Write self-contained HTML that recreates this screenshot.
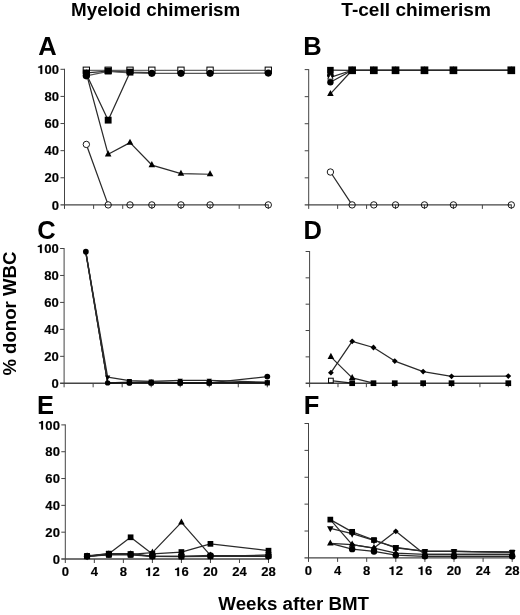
<!DOCTYPE html>
<html><head><meta charset="utf-8"><style>
html,body{margin:0;padding:0;background:#fff;}
svg{display:block;}
</style></head><body>
<svg width="520" height="615" viewBox="0 0 520 615">
<rect width="520" height="615" fill="#fff"/>
<g font-family='"Liberation Sans", sans-serif' font-weight="bold" fill="#000">
<text x="71.1" y="15.9" font-size="18" text-anchor="start" textLength="169.2" lengthAdjust="spacingAndGlyphs">Myeloid chimerism</text>
<text x="341.3" y="15.9" font-size="18" text-anchor="start" textLength="149.6" lengthAdjust="spacingAndGlyphs">T-cell chimerism</text>
<text x="218.3" y="609.9" font-size="18" text-anchor="start" textLength="150.7" lengthAdjust="spacingAndGlyphs">Weeks after BMT</text>
<text transform="translate(15.5,375.6) rotate(-90)" font-size="18" textLength="124" lengthAdjust="spacingAndGlyphs">% donor WBC</text>
</g>
<g><path d="M86.34,70.25L108.17,70.25M108.17,70.25L130.01,70.25M130.01,70.25L151.84,70.25M151.84,70.25L180.96,70.25M180.96,70.25L210.07,70.25M210.07,70.25L268.30,70.25" stroke="#666" stroke-width="1.25" fill="none" stroke-linecap="round"/><path d="M86.34,73.37L108.17,154.32M108.17,154.32L130.01,142.66M130.01,142.66L151.84,165.03M151.84,165.03L180.96,173.71M180.96,173.71L210.07,174.25" stroke="#2a2a2a" stroke-width="1.25" fill="none" stroke-linecap="round"/><path d="M86.34,144.42L108.17,204.90" stroke="#2a2a2a" stroke-width="1.25" fill="none" stroke-linecap="round"/><path d="M86.34,74.05L108.17,120.15M108.17,120.15L130.01,72.15M130.01,72.15L151.84,72.55" stroke="#2a2a2a" stroke-width="1.25" fill="none" stroke-linecap="round"/><path d="M86.34,72.96L108.17,71.06M108.17,71.06L130.01,72.15" stroke="#2a2a2a" stroke-width="1.25" fill="none" stroke-linecap="round"/><path d="M86.34,75.81L108.17,71.33M108.17,71.33L130.01,72.96M130.01,72.96L151.84,73.37M151.84,73.37L180.96,73.37M180.96,73.37L210.07,73.37M210.07,73.37L268.30,73.10" stroke="#555" stroke-width="1.25" fill="none" stroke-linecap="round"/><rect x="83.19" y="67.10" width="6.30" height="6.30" fill="#fff" stroke="#000" stroke-width="1"/><rect x="105.02" y="67.10" width="6.30" height="6.30" fill="#fff" stroke="#000" stroke-width="1"/><rect x="126.86" y="67.10" width="6.30" height="6.30" fill="#fff" stroke="#000" stroke-width="1"/><rect x="148.69" y="67.10" width="6.30" height="6.30" fill="#fff" stroke="#000" stroke-width="1"/><rect x="177.81" y="67.10" width="6.30" height="6.30" fill="#fff" stroke="#000" stroke-width="1"/><rect x="206.92" y="67.10" width="6.30" height="6.30" fill="#fff" stroke="#000" stroke-width="1"/><rect x="265.15" y="67.10" width="6.30" height="6.30" fill="#fff" stroke="#000" stroke-width="1"/><path d="M86.34,69.37L89.64,75.47L83.04,75.47Z" fill="#000"/><path d="M108.17,150.32L111.47,156.42L104.87,156.42Z" fill="#000"/><path d="M130.01,138.66L133.31,144.76L126.71,144.76Z" fill="#000"/><path d="M151.84,161.03L155.14,167.13L148.54,167.13Z" fill="#000"/><path d="M180.96,169.71L184.26,175.81L177.66,175.81Z" fill="#000"/><path d="M210.07,170.25L213.37,176.35L206.77,176.35Z" fill="#000"/><circle cx="86.34" cy="144.42" r="3.20" fill="#fff" stroke="#000" stroke-width="0.9"/><circle cx="108.17" cy="204.90" r="3.20" fill="#fff" stroke="#000" stroke-width="0.9"/><circle cx="130.01" cy="204.90" r="3.20" fill="#fff" stroke="#000" stroke-width="0.9"/><circle cx="151.84" cy="204.90" r="3.20" fill="#fff" stroke="#000" stroke-width="0.9"/><circle cx="180.96" cy="204.90" r="3.20" fill="#fff" stroke="#000" stroke-width="0.9"/><circle cx="210.07" cy="204.90" r="3.20" fill="#fff" stroke="#000" stroke-width="0.9"/><circle cx="268.30" cy="204.90" r="3.20" fill="#fff" stroke="#000" stroke-width="0.9"/><rect x="82.92" y="70.63" width="6.84" height="6.84" fill="#000"/><rect x="104.75" y="116.73" width="6.84" height="6.84" fill="#000"/><rect x="82.92" y="69.54" width="6.84" height="6.84" fill="#000"/><rect x="104.75" y="67.64" width="6.84" height="6.84" fill="#000"/><rect x="126.59" y="68.73" width="6.84" height="6.84" fill="#000"/><circle cx="86.34" cy="75.81" r="3.58" fill="#000"/><circle cx="151.84" cy="73.37" r="3.58" fill="#000"/><circle cx="180.96" cy="73.37" r="3.58" fill="#000"/><circle cx="210.07" cy="73.37" r="3.58" fill="#000"/><circle cx="268.30" cy="73.10" r="3.58" fill="#000"/><g stroke="#444" stroke-width="1" fill="none" style="mix-blend-mode:multiply"><path d="M64.50,68.80V208.90"/><path d="M60.50,204.90H268.80" stroke-width="1.4"/><path d="M60.50,177.78H64.50"/><path d="M60.50,150.66H64.50"/><path d="M60.50,123.54H64.50"/><path d="M60.50,96.42H64.50"/><path d="M60.50,69.30H64.50"/><path d="M93.61,204.90V208.90"/><path d="M122.73,204.90V208.90"/><path d="M151.84,204.90V208.90"/><path d="M180.96,204.90V208.90"/><path d="M210.07,204.90V208.90"/><path d="M239.19,204.90V208.90"/><path d="M268.30,204.90V208.90"/></g><text x="38.2" y="54.6" font-family='"Liberation Sans", sans-serif' font-weight="bold" font-size="25.5">A</text><g transform="translate(59.10,209.50) scale(1.09,1)" font-family='"Liberation Sans", sans-serif' font-weight="bold" font-size="12"><text x="-6.674" y="0" stroke="#000" stroke-width="0.15">0</text></g><g transform="translate(59.10,182.38) scale(1.09,1)" font-family='"Liberation Sans", sans-serif' font-weight="bold" font-size="12"><text x="-13.349" y="0" stroke="#000" stroke-width="0.15">2</text><text x="-6.674" y="0" stroke="#000" stroke-width="0.15">0</text></g><g transform="translate(59.10,155.26) scale(1.09,1)" font-family='"Liberation Sans", sans-serif' font-weight="bold" font-size="12"><text x="-13.349" y="0" stroke="#000" stroke-width="0.15">4</text><text x="-6.674" y="0" stroke="#000" stroke-width="0.15">0</text></g><g transform="translate(59.10,128.14) scale(1.09,1)" font-family='"Liberation Sans", sans-serif' font-weight="bold" font-size="12"><text x="-13.349" y="0" stroke="#000" stroke-width="0.15">6</text><text x="-6.674" y="0" stroke="#000" stroke-width="0.15">0</text></g><g transform="translate(59.10,101.02) scale(1.09,1)" font-family='"Liberation Sans", sans-serif' font-weight="bold" font-size="12"><text x="-13.349" y="0" stroke="#000" stroke-width="0.15">8</text><text x="-6.674" y="0" stroke="#000" stroke-width="0.15">0</text></g><g transform="translate(59.10,73.90) scale(1.09,1)" font-family='"Liberation Sans", sans-serif' font-weight="bold" font-size="12"><path d="M-15.487,0.000L-15.487,-8.544L-16.879,-8.544C-17.083,-7.680 -17.863,-7.200 -19.195,-7.140L-19.195,-6.060L-17.191,-6.060L-17.191,0.000Z" fill="#000" stroke="#000" stroke-width="0.15"/><text x="-13.349" y="0" stroke="#000" stroke-width="0.15">0</text><text x="-6.674" y="0" stroke="#000" stroke-width="0.15">0</text></g></g>
<g><path d="M330.41,172.02L352.11,204.90" stroke="#2a2a2a" stroke-width="1.25" fill="none" stroke-linecap="round"/><path d="M330.41,93.95L352.11,70.28M352.11,70.28L373.82,70.28M373.82,70.28L395.53,70.28M395.53,70.28L424.47,70.28M424.47,70.28L453.41,70.28M453.41,70.28L511.30,70.28" stroke="#2a2a2a" stroke-width="1.25" fill="none" stroke-linecap="round"/><path d="M330.41,82.18L352.11,70.28M352.11,70.28L373.82,70.28M373.82,70.28L395.53,70.28M395.53,70.28L424.47,70.28M424.47,70.28L453.41,70.28M453.41,70.28L511.30,70.28" stroke="#2a2a2a" stroke-width="1.25" fill="none" stroke-linecap="round"/><path d="M330.41,77.31L352.11,70.28M352.11,70.28L373.82,70.28M373.82,70.28L395.53,70.28M395.53,70.28L424.47,70.28M424.47,70.28L453.41,70.28M453.41,70.28L511.30,70.28" stroke="#2a2a2a" stroke-width="1.25" fill="none" stroke-linecap="round"/><path d="M330.41,70.14L352.11,70.28M352.11,70.28L373.82,70.28M373.82,70.28L395.53,70.28M395.53,70.28L424.47,70.28M424.47,70.28L453.41,70.28M453.41,70.28L511.30,70.28" stroke="#2a2a2a" stroke-width="1.25" fill="none" stroke-linecap="round"/><circle cx="330.41" cy="172.02" r="3.20" fill="#fff" stroke="#000" stroke-width="0.9"/><circle cx="352.11" cy="204.90" r="3.20" fill="#fff" stroke="#000" stroke-width="0.9"/><circle cx="373.82" cy="204.90" r="3.20" fill="#fff" stroke="#000" stroke-width="0.9"/><circle cx="395.53" cy="204.90" r="3.20" fill="#fff" stroke="#000" stroke-width="0.9"/><circle cx="424.47" cy="204.90" r="3.20" fill="#fff" stroke="#000" stroke-width="0.9"/><circle cx="453.41" cy="204.90" r="3.20" fill="#fff" stroke="#000" stroke-width="0.9"/><circle cx="511.30" cy="204.90" r="3.20" fill="#fff" stroke="#000" stroke-width="0.9"/><path d="M330.41,89.95L333.71,96.05L327.11,96.05Z" fill="#000"/><path d="M352.11,66.28L355.41,72.38L348.81,72.38Z" fill="#000"/><path d="M373.82,66.28L377.12,72.38L370.52,72.38Z" fill="#000"/><path d="M395.53,66.28L398.83,72.38L392.23,72.38Z" fill="#000"/><path d="M424.47,66.28L427.77,72.38L421.17,72.38Z" fill="#000"/><path d="M453.41,66.28L456.71,72.38L450.11,72.38Z" fill="#000"/><path d="M511.30,66.28L514.60,72.38L508.00,72.38Z" fill="#000"/><circle cx="330.41" cy="82.18" r="3.20" fill="#000"/><circle cx="352.11" cy="70.28" r="3.20" fill="#000"/><circle cx="373.82" cy="70.28" r="3.20" fill="#000"/><circle cx="395.53" cy="70.28" r="3.20" fill="#000"/><circle cx="424.47" cy="70.28" r="3.20" fill="#000"/><circle cx="453.41" cy="70.28" r="3.20" fill="#000"/><circle cx="511.30" cy="70.28" r="3.20" fill="#000"/><circle cx="330.41" cy="75.28" r="3.36" fill="#000"/><path d="M330.41,74.34L333.13,79.18L327.69,79.18Z" fill="#fff" stroke="#000" stroke-width="0.9"/><path d="M352.11,67.30L354.83,72.15L349.39,72.15Z" fill="#fff" stroke="#000" stroke-width="0.9"/><path d="M373.82,67.30L376.54,72.15L371.10,72.15Z" fill="#fff" stroke="#000" stroke-width="0.9"/><path d="M395.53,67.30L398.25,72.15L392.81,72.15Z" fill="#fff" stroke="#000" stroke-width="0.9"/><path d="M424.47,67.30L427.19,72.15L421.75,72.15Z" fill="#fff" stroke="#000" stroke-width="0.9"/><path d="M453.41,67.30L456.13,72.15L450.69,72.15Z" fill="#fff" stroke="#000" stroke-width="0.9"/><path d="M511.30,67.30L514.02,72.15L508.58,72.15Z" fill="#fff" stroke="#000" stroke-width="0.9"/><rect x="327.13" y="66.86" width="6.55" height="6.55" fill="#000"/><rect x="348.27" y="66.43" width="7.70" height="7.70" fill="#000"/><rect x="369.97" y="66.43" width="7.70" height="7.70" fill="#000"/><rect x="391.68" y="66.43" width="7.70" height="7.70" fill="#000"/><rect x="420.62" y="66.43" width="7.70" height="7.70" fill="#000"/><rect x="449.57" y="66.43" width="7.70" height="7.70" fill="#000"/><rect x="507.45" y="66.43" width="7.70" height="7.70" fill="#000"/><g stroke="#444" stroke-width="1" fill="none" style="mix-blend-mode:multiply"><path d="M308.70,69.10V208.90"/><path d="M304.70,204.90H511.80" stroke-width="1.4"/><path d="M304.70,177.84H308.70"/><path d="M304.70,150.78H308.70"/><path d="M304.70,123.72H308.70"/><path d="M304.70,96.66H308.70"/><path d="M304.70,69.60H308.70"/><path d="M337.64,204.90V208.90"/><path d="M366.59,204.90V208.90"/><path d="M395.53,204.90V208.90"/><path d="M424.47,204.90V208.90"/><path d="M453.41,204.90V208.90"/><path d="M482.36,204.90V208.90"/><path d="M511.30,204.90V208.90"/></g><text x="303.2" y="55.1" font-family='"Liberation Sans", sans-serif' font-weight="bold" font-size="25.5">B</text></g>
<g><path d="M85.87,251.74L107.64,382.90M107.64,382.90L129.41,382.90M129.41,382.90L151.19,382.90M151.19,382.90L180.21,382.90M180.21,382.90L209.24,382.90M209.24,382.90L267.30,376.56" stroke="#2a2a2a" stroke-width="1.25" fill="none" stroke-linecap="round"/><path d="M85.87,252.54L107.64,377.23M107.64,377.23L129.41,380.60M129.41,380.60L151.19,381.28M151.19,381.28L180.21,380.33M180.21,380.33L209.24,380.33M209.24,380.33L267.30,382.22" stroke="#2a2a2a" stroke-width="1.25" fill="none" stroke-linecap="round"/><path d="M85.87,252.54L107.64,382.90M107.64,382.90L129.41,382.63M129.41,382.63L151.19,381.95M151.19,381.95L180.21,382.63M180.21,382.63L209.24,382.63M209.24,382.63L267.30,382.63" stroke="#2a2a2a" stroke-width="1.25" fill="none" stroke-linecap="round"/><path d="M85.87,253.22L107.64,382.90M107.64,382.90L129.41,382.22M129.41,382.22L151.19,382.63M151.19,382.63L180.21,382.90M180.21,382.90L209.24,382.90M209.24,382.90L267.30,382.90" stroke="#2a2a2a" stroke-width="1.25" fill="none" stroke-linecap="round"/><circle cx="85.87" cy="251.74" r="2.88" fill="#000"/><circle cx="129.41" cy="382.90" r="2.88" fill="#000"/><circle cx="151.19" cy="382.90" r="2.88" fill="#000"/><circle cx="180.21" cy="382.90" r="2.88" fill="#000"/><circle cx="209.24" cy="382.90" r="2.88" fill="#000"/><circle cx="267.30" cy="376.56" r="2.88" fill="#000"/><path d="M107.64,380.43L110.28,375.55L105.00,375.55Z" fill="#000"/><path d="M129.41,383.80L132.05,378.92L126.77,378.92Z" fill="#000"/><path d="M151.19,384.48L153.83,379.60L148.55,379.60Z" fill="#000"/><path d="M180.21,383.53L182.85,378.65L177.57,378.65Z" fill="#000"/><path d="M209.24,383.53L211.88,378.65L206.60,378.65Z" fill="#000"/><path d="M267.30,385.42L269.94,380.54L264.66,380.54Z" fill="#000"/><path d="M129.41,379.87L132.17,382.63L129.41,385.38L126.66,382.63Z" fill="#000"/><path d="M151.19,379.20L153.94,381.95L151.19,384.71L148.43,381.95Z" fill="#000"/><path d="M180.21,379.87L182.97,382.63L180.21,385.38L177.46,382.63Z" fill="#000"/><path d="M209.24,379.87L212.00,382.63L209.24,385.38L206.49,382.63Z" fill="#000"/><path d="M267.30,379.87L270.06,382.63L267.30,385.38L264.55,382.63Z" fill="#000"/><rect x="126.85" y="379.66" width="5.13" height="5.13" fill="#000"/><rect x="148.62" y="380.06" width="5.13" height="5.13" fill="#000"/><rect x="177.65" y="380.33" width="5.13" height="5.13" fill="#000"/><rect x="206.68" y="380.33" width="5.13" height="5.13" fill="#000"/><rect x="264.74" y="380.33" width="5.13" height="5.13" fill="#000"/><circle cx="107.64" cy="382.90" r="2.72" fill="#000"/><g stroke="#444" stroke-width="1" fill="none" style="mix-blend-mode:multiply"><path d="M64.10,248.00V387.30"/><path d="M60.10,383.30H267.80" stroke-width="1.4"/><path d="M60.10,356.34H64.10"/><path d="M60.10,329.38H64.10"/><path d="M60.10,302.42H64.10"/><path d="M60.10,275.46H64.10"/><path d="M60.10,248.50H64.10"/><path d="M93.13,383.30V387.30"/><path d="M122.16,383.30V387.30"/><path d="M151.19,383.30V387.30"/><path d="M180.21,383.30V387.30"/><path d="M209.24,383.30V387.30"/><path d="M238.27,383.30V387.30"/><path d="M267.30,383.30V387.30"/></g><text x="37.2" y="238.6" font-family='"Liberation Sans", sans-serif' font-weight="bold" font-size="25.5">C</text><g transform="translate(58.70,387.90) scale(1.09,1)" font-family='"Liberation Sans", sans-serif' font-weight="bold" font-size="12"><text x="-6.674" y="0" stroke="#000" stroke-width="0.15">0</text></g><g transform="translate(58.70,360.94) scale(1.09,1)" font-family='"Liberation Sans", sans-serif' font-weight="bold" font-size="12"><text x="-13.349" y="0" stroke="#000" stroke-width="0.15">2</text><text x="-6.674" y="0" stroke="#000" stroke-width="0.15">0</text></g><g transform="translate(58.70,333.98) scale(1.09,1)" font-family='"Liberation Sans", sans-serif' font-weight="bold" font-size="12"><text x="-13.349" y="0" stroke="#000" stroke-width="0.15">4</text><text x="-6.674" y="0" stroke="#000" stroke-width="0.15">0</text></g><g transform="translate(58.70,307.02) scale(1.09,1)" font-family='"Liberation Sans", sans-serif' font-weight="bold" font-size="12"><text x="-13.349" y="0" stroke="#000" stroke-width="0.15">6</text><text x="-6.674" y="0" stroke="#000" stroke-width="0.15">0</text></g><g transform="translate(58.70,280.06) scale(1.09,1)" font-family='"Liberation Sans", sans-serif' font-weight="bold" font-size="12"><text x="-13.349" y="0" stroke="#000" stroke-width="0.15">8</text><text x="-6.674" y="0" stroke="#000" stroke-width="0.15">0</text></g><g transform="translate(58.70,253.10) scale(1.09,1)" font-family='"Liberation Sans", sans-serif' font-weight="bold" font-size="12"><path d="M-15.487,0.000L-15.487,-8.544L-16.879,-8.544C-17.083,-7.680 -17.863,-7.200 -19.195,-7.140L-19.195,-6.060L-17.191,-6.060L-17.191,0.000Z" fill="#000" stroke="#000" stroke-width="0.15"/><text x="-13.349" y="0" stroke="#000" stroke-width="0.15">0</text><text x="-6.674" y="0" stroke="#000" stroke-width="0.15">0</text></g></g>
<g><path d="M330.89,356.86L352.18,377.93M352.18,377.93L373.47,383.20" stroke="#2a2a2a" stroke-width="1.25" fill="none" stroke-linecap="round"/><path d="M330.89,372.66L352.18,341.32M352.18,341.32L373.47,347.51M373.47,347.51L394.76,361.07M394.76,361.07L423.14,371.61M423.14,371.61L451.53,376.35M451.53,376.35L508.30,376.09" stroke="#2a2a2a" stroke-width="1.25" fill="none" stroke-linecap="round"/><path d="M330.89,380.57L352.18,383.20" stroke="#2a2a2a" stroke-width="1.25" fill="none" stroke-linecap="round"/><path d="M330.89,352.86L334.19,358.96L327.59,358.96Z" fill="#000"/><path d="M352.18,373.93L355.48,380.03L348.88,380.03Z" fill="#000"/><path d="M330.89,369.76L333.79,372.66L330.89,375.56L327.99,372.66Z" fill="#000"/><path d="M352.18,338.42L355.08,341.32L352.18,344.22L349.28,341.32Z" fill="#000"/><path d="M373.47,344.61L376.37,347.51L373.47,350.41L370.57,347.51Z" fill="#000"/><path d="M394.76,358.17L397.66,361.07L394.76,363.97L391.86,361.07Z" fill="#000"/><path d="M423.14,368.71L426.04,371.61L423.14,374.51L420.24,371.61Z" fill="#000"/><path d="M451.53,373.45L454.43,376.35L451.53,379.25L448.63,376.35Z" fill="#000"/><path d="M508.30,373.19L511.20,376.09L508.30,378.99L505.40,376.09Z" fill="#000"/><rect x="349.33" y="380.35" width="5.70" height="5.70" fill="#000"/><rect x="370.62" y="380.35" width="5.70" height="5.70" fill="#000"/><rect x="391.91" y="380.35" width="5.70" height="5.70" fill="#000"/><rect x="420.29" y="380.35" width="5.70" height="5.70" fill="#000"/><rect x="448.68" y="380.35" width="5.70" height="5.70" fill="#000"/><rect x="505.45" y="380.35" width="5.70" height="5.70" fill="#000"/><rect x="328.54" y="378.22" width="4.70" height="4.70" fill="#fff" stroke="#000" stroke-width="1"/><g stroke="#444" stroke-width="1" fill="none" style="mix-blend-mode:multiply"><path d="M309.60,251.00V387.20"/><path d="M305.60,383.20H508.80" stroke-width="1.4"/><path d="M305.60,356.86H309.60"/><path d="M305.60,330.52H309.60"/><path d="M305.60,304.18H309.60"/><path d="M305.60,277.84H309.60"/><path d="M305.60,251.50H309.60"/><path d="M337.99,383.20V387.20"/><path d="M366.37,383.20V387.20"/><path d="M394.76,383.20V387.20"/><path d="M423.14,383.20V387.20"/><path d="M451.53,383.20V387.20"/><path d="M479.91,383.20V387.20"/><path d="M508.30,383.20V387.20"/></g><text x="303.4" y="239.2" font-family='"Liberation Sans", sans-serif' font-weight="bold" font-size="25.5">D</text></g>
<g><path d="M87.07,556.32L108.84,554.31M108.84,554.31L130.61,554.31M130.61,554.31L152.39,556.32M152.39,556.32L181.41,556.32M181.41,556.32L210.44,555.38M210.44,555.38L268.50,556.32" stroke="#2a2a2a" stroke-width="1.25" fill="none" stroke-linecap="round"/><path d="M87.07,556.32L108.84,553.64M108.84,553.64L130.61,553.37M130.61,553.37L152.39,556.32M152.39,556.32L181.41,556.32M181.41,556.32L210.44,556.32M210.44,556.32L268.50,556.32" stroke="#2a2a2a" stroke-width="1.25" fill="none" stroke-linecap="round"/><path d="M87.07,556.32L108.84,554.31M108.84,554.31L130.61,554.31M130.61,554.31L152.39,552.56M152.39,552.56L181.41,522.39M181.41,522.39L210.44,555.38M210.44,555.38L268.50,556.32" stroke="#2a2a2a" stroke-width="1.25" fill="none" stroke-linecap="round"/><path d="M87.07,556.32L108.84,554.98M108.84,554.98L130.61,554.98M130.61,554.98L152.39,556.32M152.39,556.32L181.41,556.59M181.41,556.59L210.44,556.32M210.44,556.32L268.50,554.98" stroke="#2a2a2a" stroke-width="1.25" fill="none" stroke-linecap="round"/><path d="M87.07,555.92L108.84,553.64M108.84,553.64L130.61,537.28M130.61,537.28L152.39,553.90M152.39,553.90L181.41,552.03M181.41,552.03L210.44,543.85M210.44,543.85L268.50,550.69" stroke="#2a2a2a" stroke-width="1.25" fill="none" stroke-linecap="round"/><circle cx="87.07" cy="556.32" r="3.20" fill="#000"/><circle cx="108.84" cy="554.31" r="3.20" fill="#000"/><circle cx="130.61" cy="554.31" r="3.20" fill="#000"/><circle cx="152.39" cy="556.32" r="3.20" fill="#000"/><circle cx="181.41" cy="556.32" r="3.20" fill="#000"/><circle cx="210.44" cy="555.38" r="3.20" fill="#000"/><circle cx="268.50" cy="556.32" r="3.20" fill="#000"/><path d="M87.07,560.32L90.37,554.22L83.77,554.22Z" fill="#000"/><path d="M108.84,557.64L112.14,551.54L105.54,551.54Z" fill="#000"/><path d="M130.61,557.37L133.91,551.27L127.31,551.27Z" fill="#000"/><path d="M152.39,560.32L155.69,554.22L149.09,554.22Z" fill="#000"/><path d="M181.41,560.32L184.71,554.22L178.11,554.22Z" fill="#000"/><path d="M210.44,560.32L213.74,554.22L207.14,554.22Z" fill="#000"/><path d="M268.50,560.32L271.80,554.22L265.20,554.22Z" fill="#000"/><path d="M87.07,552.32L90.37,558.42L83.77,558.42Z" fill="#000"/><path d="M108.84,550.31L112.14,556.41L105.54,556.41Z" fill="#000"/><path d="M130.61,550.31L133.91,556.41L127.31,556.41Z" fill="#000"/><path d="M152.39,548.56L155.69,554.66L149.09,554.66Z" fill="#000"/><path d="M181.41,518.39L184.71,524.49L178.11,524.49Z" fill="#000"/><path d="M210.44,551.38L213.74,557.48L207.14,557.48Z" fill="#000"/><path d="M268.50,552.32L271.80,558.42L265.20,558.42Z" fill="#000"/><rect x="84.22" y="553.47" width="5.70" height="5.70" fill="#000"/><rect x="105.99" y="552.13" width="5.70" height="5.70" fill="#000"/><rect x="127.76" y="552.13" width="5.70" height="5.70" fill="#000"/><rect x="149.54" y="553.47" width="5.70" height="5.70" fill="#000"/><rect x="178.56" y="553.74" width="5.70" height="5.70" fill="#000"/><rect x="207.59" y="553.47" width="5.70" height="5.70" fill="#000"/><rect x="265.65" y="552.13" width="5.70" height="5.70" fill="#000"/><rect x="84.22" y="553.07" width="5.70" height="5.70" fill="#000"/><rect x="105.99" y="550.79" width="5.70" height="5.70" fill="#000"/><rect x="127.76" y="534.43" width="5.70" height="5.70" fill="#000"/><rect x="149.54" y="551.05" width="5.70" height="5.70" fill="#000"/><rect x="178.56" y="549.18" width="5.70" height="5.70" fill="#000"/><rect x="207.59" y="541.00" width="5.70" height="5.70" fill="#000"/><rect x="265.65" y="547.84" width="5.70" height="5.70" fill="#000"/><g stroke="#444" stroke-width="1" fill="none" style="mix-blend-mode:multiply"><path d="M65.30,424.40V563.00"/><path d="M61.30,559.00H269.00" stroke-width="1.4"/><path d="M61.30,532.18H65.30"/><path d="M61.30,505.36H65.30"/><path d="M61.30,478.54H65.30"/><path d="M61.30,451.72H65.30"/><path d="M61.30,424.90H65.30"/><path d="M94.33,559.00V563.00"/><path d="M123.36,559.00V563.00"/><path d="M152.39,559.00V563.00"/><path d="M181.41,559.00V563.00"/><path d="M210.44,559.00V563.00"/><path d="M239.47,559.00V563.00"/><path d="M268.50,559.00V563.00"/></g><text x="37.1" y="413.8" font-family='"Liberation Sans", sans-serif' font-weight="bold" font-size="25.5">E</text><g transform="translate(59.90,563.60) scale(1.09,1)" font-family='"Liberation Sans", sans-serif' font-weight="bold" font-size="12"><text x="-6.674" y="0" stroke="#000" stroke-width="0.15">0</text></g><g transform="translate(59.90,536.78) scale(1.09,1)" font-family='"Liberation Sans", sans-serif' font-weight="bold" font-size="12"><text x="-13.349" y="0" stroke="#000" stroke-width="0.15">2</text><text x="-6.674" y="0" stroke="#000" stroke-width="0.15">0</text></g><g transform="translate(59.90,509.96) scale(1.09,1)" font-family='"Liberation Sans", sans-serif' font-weight="bold" font-size="12"><text x="-13.349" y="0" stroke="#000" stroke-width="0.15">4</text><text x="-6.674" y="0" stroke="#000" stroke-width="0.15">0</text></g><g transform="translate(59.90,483.14) scale(1.09,1)" font-family='"Liberation Sans", sans-serif' font-weight="bold" font-size="12"><text x="-13.349" y="0" stroke="#000" stroke-width="0.15">6</text><text x="-6.674" y="0" stroke="#000" stroke-width="0.15">0</text></g><g transform="translate(59.90,456.32) scale(1.09,1)" font-family='"Liberation Sans", sans-serif' font-weight="bold" font-size="12"><text x="-13.349" y="0" stroke="#000" stroke-width="0.15">8</text><text x="-6.674" y="0" stroke="#000" stroke-width="0.15">0</text></g><g transform="translate(59.90,429.50) scale(1.09,1)" font-family='"Liberation Sans", sans-serif' font-weight="bold" font-size="12"><path d="M-15.487,0.000L-15.487,-8.544L-16.879,-8.544C-17.083,-7.680 -17.863,-7.200 -19.195,-7.140L-19.195,-6.060L-17.191,-6.060L-17.191,0.000Z" fill="#000" stroke="#000" stroke-width="0.15"/><text x="-13.349" y="0" stroke="#000" stroke-width="0.15">0</text><text x="-6.674" y="0" stroke="#000" stroke-width="0.15">0</text></g><g transform="translate(65.30,576.10) scale(1.09,1)" font-family='"Liberation Sans", sans-serif' font-weight="bold" font-size="12"><text x="-3.337" y="0" stroke="#000" stroke-width="0.15">0</text></g><g transform="translate(94.33,576.10) scale(1.09,1)" font-family='"Liberation Sans", sans-serif' font-weight="bold" font-size="12"><text x="-3.337" y="0" stroke="#000" stroke-width="0.15">4</text></g><g transform="translate(123.36,576.10) scale(1.09,1)" font-family='"Liberation Sans", sans-serif' font-weight="bold" font-size="12"><text x="-3.337" y="0" stroke="#000" stroke-width="0.15">8</text></g><g transform="translate(152.39,576.10) scale(1.09,1)" font-family='"Liberation Sans", sans-serif' font-weight="bold" font-size="12"><path d="M-2.138,0.000L-2.138,-8.544L-3.530,-8.544C-3.734,-7.680 -4.514,-7.200 -5.846,-7.140L-5.846,-6.060L-3.842,-6.060L-3.842,0.000Z" fill="#000" stroke="#000" stroke-width="0.15"/><text x="0.000" y="0" stroke="#000" stroke-width="0.15">2</text></g><g transform="translate(181.41,576.10) scale(1.09,1)" font-family='"Liberation Sans", sans-serif' font-weight="bold" font-size="12"><path d="M-2.138,0.000L-2.138,-8.544L-3.530,-8.544C-3.734,-7.680 -4.514,-7.200 -5.846,-7.140L-5.846,-6.060L-3.842,-6.060L-3.842,0.000Z" fill="#000" stroke="#000" stroke-width="0.15"/><text x="0.000" y="0" stroke="#000" stroke-width="0.15">6</text></g><g transform="translate(210.44,576.10) scale(1.09,1)" font-family='"Liberation Sans", sans-serif' font-weight="bold" font-size="12"><text x="-6.674" y="0" stroke="#000" stroke-width="0.15">2</text><text x="0.000" y="0" stroke="#000" stroke-width="0.15">0</text></g><g transform="translate(239.47,576.10) scale(1.09,1)" font-family='"Liberation Sans", sans-serif' font-weight="bold" font-size="12"><text x="-6.674" y="0" stroke="#000" stroke-width="0.15">2</text><text x="0.000" y="0" stroke="#000" stroke-width="0.15">4</text></g><g transform="translate(268.50,576.10) scale(1.09,1)" font-family='"Liberation Sans", sans-serif' font-weight="bold" font-size="12"><text x="-6.674" y="0" stroke="#000" stroke-width="0.15">2</text><text x="0.000" y="0" stroke="#000" stroke-width="0.15">8</text></g></g>
<g><path d="M330.32,543.38L352.15,549.16M352.15,549.16L373.98,551.45M373.98,551.45L395.80,555.21M395.80,555.21L424.90,556.29M424.90,556.29L454.00,556.29M454.00,556.29L512.20,556.29" stroke="#2a2a2a" stroke-width="1.25" fill="none" stroke-linecap="round"/><path d="M330.32,543.38L352.15,544.59M352.15,544.59L373.98,548.09M373.98,548.09L395.80,553.20M395.80,553.20L424.90,554.41M424.90,554.41L454.00,554.41M454.00,554.41L512.20,554.41" stroke="#2a2a2a" stroke-width="1.25" fill="none" stroke-linecap="round"/><path d="M330.32,519.60L352.15,544.59M352.15,544.59L373.98,548.09M373.98,548.09L395.80,531.29M395.80,531.29L424.90,554.41M424.90,554.41L454.00,554.41M454.00,554.41L512.20,554.41" stroke="#2a2a2a" stroke-width="1.25" fill="none" stroke-linecap="round"/><path d="M330.32,528.33L352.15,533.71M352.15,533.71L373.98,540.43M373.98,540.43L395.80,547.42M395.80,547.42L424.90,551.45M424.90,551.45L454.00,551.45M454.00,551.45L512.20,552.12" stroke="#2a2a2a" stroke-width="1.25" fill="none" stroke-linecap="round"/><path d="M330.32,519.60L352.15,531.83M352.15,531.83L373.98,540.02M373.98,540.02L395.80,547.95M395.80,547.95L424.90,551.45M424.90,551.45L454.00,551.45M454.00,551.45L512.20,552.12" stroke="#2a2a2a" stroke-width="1.25" fill="none" stroke-linecap="round"/><path d="M424.90,556.29L454.00,556.29M454.00,556.29L512.20,556.29" stroke="#2a2a2a" stroke-width="1.25" fill="none" stroke-linecap="round"/><path d="M424.90,551.45L454.00,551.45M454.00,551.45L512.20,552.12" stroke="#2a2a2a" stroke-width="1.25" fill="none" stroke-linecap="round"/><circle cx="352.15" cy="549.16" r="3.20" fill="#000"/><circle cx="373.98" cy="551.45" r="3.20" fill="#000"/><circle cx="395.80" cy="555.21" r="3.20" fill="#000"/><circle cx="424.90" cy="556.29" r="3.20" fill="#000"/><circle cx="454.00" cy="556.29" r="3.20" fill="#000"/><circle cx="512.20" cy="556.29" r="3.20" fill="#000"/><path d="M330.32,539.38L333.62,545.48L327.02,545.48Z" fill="#000"/><path d="M352.15,540.59L355.45,546.69L348.85,546.69Z" fill="#000"/><path d="M373.98,544.09L377.28,550.19L370.68,550.19Z" fill="#000"/><path d="M395.80,549.20L399.10,555.30L392.50,555.30Z" fill="#000"/><path d="M424.90,550.41L428.20,556.51L421.60,556.51Z" fill="#000"/><path d="M454.00,550.41L457.30,556.51L450.70,556.51Z" fill="#000"/><path d="M512.20,550.41L515.50,556.51L508.90,556.51Z" fill="#000"/><path d="M352.15,541.69L355.05,544.59L352.15,547.49L349.25,544.59Z" fill="#000"/><path d="M373.98,545.19L376.88,548.09L373.98,550.99L371.08,548.09Z" fill="#000"/><path d="M395.80,528.39L398.70,531.29L395.80,534.19L392.90,531.29Z" fill="#000"/><path d="M424.90,551.51L427.80,554.41L424.90,557.31L422.00,554.41Z" fill="#000"/><path d="M454.00,551.51L456.90,554.41L454.00,557.31L451.10,554.41Z" fill="#000"/><path d="M512.20,551.51L515.10,554.41L512.20,557.31L509.30,554.41Z" fill="#000"/><path d="M330.32,532.33L333.62,526.23L327.02,526.23Z" fill="#000"/><path d="M352.15,537.71L355.45,531.61L348.85,531.61Z" fill="#000"/><path d="M373.98,544.43L377.28,538.33L370.68,538.33Z" fill="#000"/><path d="M395.80,551.42L399.10,545.32L392.50,545.32Z" fill="#000"/><path d="M424.90,555.45L428.20,549.35L421.60,549.35Z" fill="#000"/><path d="M454.00,555.45L457.30,549.35L450.70,549.35Z" fill="#000"/><path d="M512.20,556.12L515.50,550.02L508.90,550.02Z" fill="#000"/><rect x="327.47" y="516.75" width="5.70" height="5.70" fill="#000"/><rect x="349.30" y="528.98" width="5.70" height="5.70" fill="#000"/><rect x="371.12" y="537.17" width="5.70" height="5.70" fill="#000"/><rect x="392.95" y="545.10" width="5.70" height="5.70" fill="#000"/><rect x="422.48" y="553.86" width="4.84" height="4.84" fill="#000"/><rect x="451.58" y="553.86" width="4.84" height="4.84" fill="#000"/><rect x="509.78" y="553.86" width="4.84" height="4.84" fill="#000"/><rect x="422.48" y="549.03" width="4.84" height="4.84" fill="#000"/><rect x="451.58" y="549.03" width="4.84" height="4.84" fill="#000"/><rect x="509.78" y="549.70" width="4.84" height="4.84" fill="#000"/><g stroke="#444" stroke-width="1" fill="none" style="mix-blend-mode:multiply"><path d="M308.50,423.00V561.90"/><path d="M304.50,557.90H512.70" stroke-width="1.4"/><path d="M304.50,531.02H308.50"/><path d="M304.50,504.14H308.50"/><path d="M304.50,477.26H308.50"/><path d="M304.50,450.38H308.50"/><path d="M304.50,423.50H308.50"/><path d="M337.60,557.90V561.90"/><path d="M366.70,557.90V561.90"/><path d="M395.80,557.90V561.90"/><path d="M424.90,557.90V561.90"/><path d="M454.00,557.90V561.90"/><path d="M483.10,557.90V561.90"/><path d="M512.20,557.90V561.90"/></g><text x="303.7" y="413.8" font-family='"Liberation Sans", sans-serif' font-weight="bold" font-size="25.5">F</text><g transform="translate(308.50,575.00) scale(1.09,1)" font-family='"Liberation Sans", sans-serif' font-weight="bold" font-size="12"><text x="-3.337" y="0" stroke="#000" stroke-width="0.15">0</text></g><g transform="translate(337.60,575.00) scale(1.09,1)" font-family='"Liberation Sans", sans-serif' font-weight="bold" font-size="12"><text x="-3.337" y="0" stroke="#000" stroke-width="0.15">4</text></g><g transform="translate(366.70,575.00) scale(1.09,1)" font-family='"Liberation Sans", sans-serif' font-weight="bold" font-size="12"><text x="-3.337" y="0" stroke="#000" stroke-width="0.15">8</text></g><g transform="translate(395.80,575.00) scale(1.09,1)" font-family='"Liberation Sans", sans-serif' font-weight="bold" font-size="12"><path d="M-2.138,0.000L-2.138,-8.544L-3.530,-8.544C-3.734,-7.680 -4.514,-7.200 -5.846,-7.140L-5.846,-6.060L-3.842,-6.060L-3.842,0.000Z" fill="#000" stroke="#000" stroke-width="0.15"/><text x="0.000" y="0" stroke="#000" stroke-width="0.15">2</text></g><g transform="translate(424.90,575.00) scale(1.09,1)" font-family='"Liberation Sans", sans-serif' font-weight="bold" font-size="12"><path d="M-2.138,0.000L-2.138,-8.544L-3.530,-8.544C-3.734,-7.680 -4.514,-7.200 -5.846,-7.140L-5.846,-6.060L-3.842,-6.060L-3.842,0.000Z" fill="#000" stroke="#000" stroke-width="0.15"/><text x="0.000" y="0" stroke="#000" stroke-width="0.15">6</text></g><g transform="translate(454.00,575.00) scale(1.09,1)" font-family='"Liberation Sans", sans-serif' font-weight="bold" font-size="12"><text x="-6.674" y="0" stroke="#000" stroke-width="0.15">2</text><text x="0.000" y="0" stroke="#000" stroke-width="0.15">0</text></g><g transform="translate(483.10,575.00) scale(1.09,1)" font-family='"Liberation Sans", sans-serif' font-weight="bold" font-size="12"><text x="-6.674" y="0" stroke="#000" stroke-width="0.15">2</text><text x="0.000" y="0" stroke="#000" stroke-width="0.15">4</text></g><g transform="translate(512.20,575.00) scale(1.09,1)" font-family='"Liberation Sans", sans-serif' font-weight="bold" font-size="12"><text x="-6.674" y="0" stroke="#000" stroke-width="0.15">2</text><text x="0.000" y="0" stroke="#000" stroke-width="0.15">8</text></g></g>
</svg>
</body></html>
